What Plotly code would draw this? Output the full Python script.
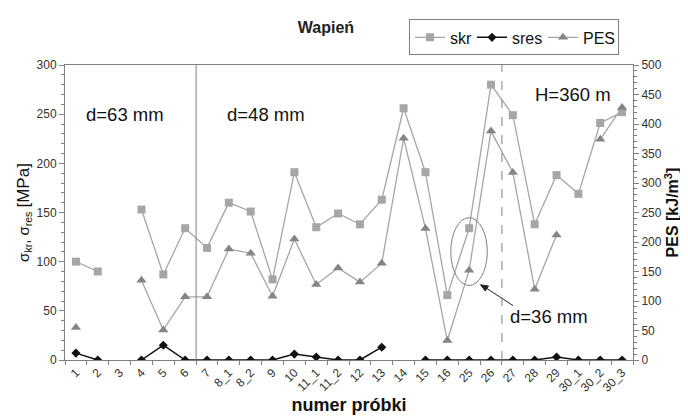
import plotly.graph_objects as go

categories = ["1", "2", "3", "4", "5", "6", "7", "8_1", "8_2", "9", "10", "11_1", "11_2",
              "12", "13", "14", "15", "16", "25", "26", "27", "28", "29", "30_1", "30_2", "30_3"]
skr = [100, 90, None, 153, 87, 134, 114, 160, 151, 82, 191, 135, 149,
       138, 163, 256, 191, 66, 134, 280, 249, 138, 188, 169, 241, 252]
sres = [7, 0, None, 0, 15, 0, 0, 0, 0, 0, 6, 3, 0,
        0, 13, None, 0, 0, 0, 0, 0, 0, 3, 0, 0, 0]
pes = [55, None, None, 135, 51, 107, 107, 188, 181, 108, 205, 128, 156,
       132, 164, 376, 223, 33, 152, 388, 318, 120, 212, None, 374, 428]

x = list(range(len(categories)))
FONT = "Liberation Sans, Arial, sans-serif"
GRAY = "#808080"

fig = go.Figure()
fig.add_trace(go.Scatter(x=x, y=skr, name="skr", mode="lines+markers",
                         line=dict(color="#a6a6a6", width=1.3),
                         marker=dict(symbol="square", size=8, color="#a6a6a6"),
                         yaxis="y", legendwidth=17))
fig.add_trace(go.Scatter(x=x, y=sres, name="sres", mode="lines+markers",
                         line=dict(color="#111111", width=1.5),
                         marker=dict(symbol="diamond", size=7, color="#111111"),
                         yaxis="y", legendwidth=26))
fig.add_trace(go.Scatter(x=x, y=pes, name="PES", mode="lines+markers",
                         line=dict(color="#a6a6a6", width=1.3),
                         marker=dict(symbol="triangle-up", size=9, color="#858585"),
                         yaxis="y2", legendwidth=30))

fig.update_layout(
    width=688, height=420,
    margin=dict(l=57, r=63, t=54, b=68),
    paper_bgcolor="white", plot_bgcolor="white",
    font=dict(family=FONT, color="#222222"),
    title=dict(text="<b>Wapień</b>", x=318 / 688, xanchor="center", y=1 - 19 / 420,
               yanchor="middle", font=dict(size=16, color="#222222")),
    showlegend=True,
    legend=dict(orientation="h", x=(401 - 57) / 568, y=(352 - 8) / 298,
                xanchor="left", yanchor="top", bordercolor=GRAY, borderwidth=1,
                bgcolor="white", font=dict(size=16, color="#111111"), itemwidth=30,
                tracegroupgap=0),
    xaxis=dict(range=[-0.5, 25.5], tickmode="array", tickvals=x, ticktext=categories,
               tickangle=-45, ticks="", showline=True, linecolor=GRAY, mirror=True,
               showgrid=False, zeroline=False, automargin=False,
               tickfont=dict(size=12, color="#333333"),
               minor=dict(tickmode="array", tickvals=[i + 0.5 for i in range(-1, 26)],
                          ticks="outside", ticklen=4, tickcolor=GRAY),
               title=dict(text="<b>numer próbki</b>", font=dict(size=18, color="#111111"),
                          standoff=4)),
    yaxis=dict(range=[0, 300], dtick=50, ticks="outside", ticklen=5, tickcolor=GRAY,
               showline=True, linecolor=GRAY, showgrid=False, zeroline=False,
               automargin=False, tickfont=dict(size=12, color="#333333"),
               minor=dict(dtick=10, ticks="outside", ticklen=3, tickcolor=GRAY),
               title=dict(text="σ<sub>kr</sub>, σ<sub>res</sub> <span style='font-size:17px'>[MPa]</span>",
                          font=dict(size=15, color="#111111"), standoff=3)),
    yaxis2=dict(range=[0, 500], dtick=50, overlaying="y", side="right", ticks="outside",
                ticklen=5, tickcolor=GRAY, showline=True, linecolor=GRAY, showgrid=False,
                zeroline=False, automargin=False, tickfont=dict(size=12, color="#333333"),
                minor=dict(dtick=10, ticks="outside", ticklen=3, tickcolor=GRAY),
                title=dict(text="<b>PES [kJ/m<sup>3</sup>]</b>",
                           font=dict(size=16, color="#111111"), standoff=4)),
)

def px2paper(px, py):
    return (px - 57) / 568, (352 - py) / 298

for label, (px, py) in [("d=63 mm", (116.7, 104)), ("d=48 mm", (258, 104)),
                        ("H=360 m", (564.7, 84)), ("d=36 mm", (541, 308))]:
    xp, yp = px2paper(px, py)
    fig.add_annotation(text=label, x=xp, y=yp, xref="paper", yref="paper",
                       showarrow=False, font=dict(size=18.5, color="#111111"),
                       xanchor="center", yanchor="middle")

# arrow pointing at the d=36 mm ellipse
tx, ty = px2paper(505, 297)
hx, hy = px2paper(477, 278.5)
fig.add_shape(type="line", xref="paper", yref="paper", x0=tx, y0=ty, x1=hx, y1=hy,
              line=dict(color="#222222", width=1))
pts = [px2paper(472.5, 276), px2paper(480.5, 277.3), px2paper(477.2, 282.3)]
path = "M {} {} L {} {} L {} {} Z".format(*[v for p in pts for v in p])
fig.add_shape(type="path", xref="paper", yref="paper", path=path,
              fillcolor="#222222", line=dict(color="#222222", width=1))

fig.add_shape(type="circle", xref="x", yref="y", x0=17.16, x1=18.83, y0=75.8, y1=144.7,
              line=dict(color=GRAY, width=1))
fig.add_shape(type="line", xref="x", yref="paper", x0=5.5, x1=5.5, y0=0, y1=1,
              line=dict(color=GRAY, width=1))
fig.add_shape(type="line", xref="x", yref="paper", x0=19.5, x1=19.5, y0=0, y1=1,
              line=dict(color=GRAY, width=1, dash="dash"))

fig.write_html("out.html")
